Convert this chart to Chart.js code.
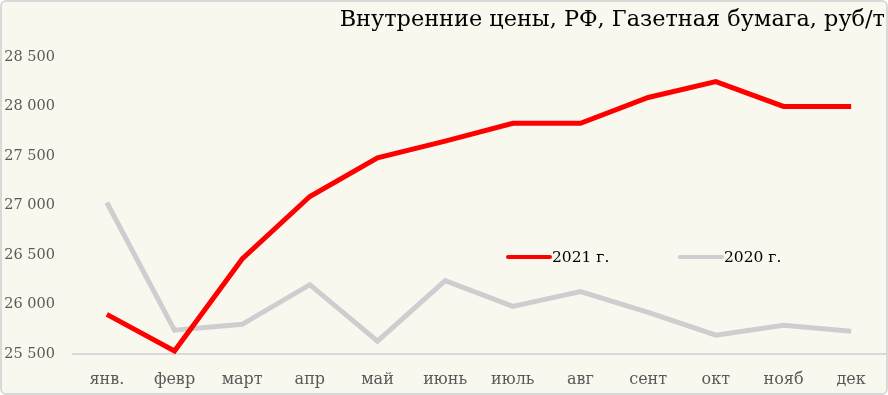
<!DOCTYPE html>
<html>
<head>
<meta charset="utf-8">
<script src="https://cdn.jsdelivr.net/npm/chart.js@4"></script>
<style>
  html, body { margin: 0; padding: 0; background: #ffffff; }
  .box {
    width: 888px; height: 395px; box-sizing: border-box;
    border: 2px solid #d9d9d9; border-radius: 6px;
    background: #f9f8ee; overflow: hidden;
  }
  canvas { display: block; }
</style>
</head>
<body>
<div class="box"><canvas id="myChart" width="884" height="391"></canvas></div>
<script>
    // data
    const months = ['янв.', 'февр', 'март', 'апр', 'май', 'июнь', 'июль', 'авг', 'сент', 'окт', 'нояб', 'дек'];
    const prices2021 = [25900, 25530, 26460, 27090, 27480, 27650, 27830, 27830, 28090, 28250, 28000, 28000];
    const prices2020 = [27030, 25740, 25800, 26200, 25630, 26240, 25980, 26130, 25920, 25690, 25790, 25730];
    const titleText = 'Внутренние цены, РФ, Газетная бумага, руб/т';

    const serif = "'DejaVu Serif', 'Liberation Serif', serif";

    // legend drawn inside the plot, like the original
    const innerLegend = {
      id: 'innerLegend',
      afterDraw(chart, args, opts) {
        const ctx = chart.ctx;
        const area = chart.chartArea;
        ctx.save();
        ctx.font = opts.font;
        ctx.textBaseline = 'middle';
        chart.data.datasets.forEach((ds, i) => {
          const x = area.left + opts.xs[i];
          const y = area.top + opts.y;
          ctx.strokeStyle = ds.borderColor;
          ctx.lineWidth = 4;
          ctx.lineCap = 'round';
          ctx.beginPath();
          ctx.moveTo(x, y);
          ctx.lineTo(x + 42, y);
          ctx.stroke();
          ctx.fillStyle = '#000000';
          ctx.fillText(ds.label, x + 44, y + 1);
        });
        ctx.restore();
      }
    };

    const data = {
      labels: months,
      datasets: [{
        label: '2021 г.',
        data: prices2021,
        borderColor: '#ff0000',
        borderWidth: 5,
        pointRadius: 0,
        tension: 0
      },
      {
        label: '2020 г.',
        data: prices2020,
        borderColor: '#d0cdd0',
        borderWidth: 5,
        pointRadius: 0,
        tension: 0
      }]
    };

    const config = {
      type: 'line',
      data,
      plugins: [innerLegend],
      options: {
        responsive: false,
        animation: false,
        layout: { padding: { left: 2, right: 1, top: 4, bottom: 0 } },
        plugins: {
          legend: { display: false },
          tooltip: { enabled: false },
          title: {
            display: true,
            text: titleText,
            align: 'end',
            color: '#000000',
            font: { family: serif, size: 22.4, weight: 'normal' },
            padding: { top: 1, bottom: 23 }
          },
          innerLegend: {
            font: "15.5px " + serif,
            xs: [435, 607],
            y: 200
          }
        },
        scales: {
          x: {
            offset: true,
            grid: { display: false, drawTicks: false },
            border: { display: true, color: '#d9d9d9', width: 2 },
            afterFit: scale => { scale.height = 39; },
            ticks: {
              color: '#595959',
              font: { family: serif, size: 16 },
              padding: 16,
              maxRotation: 0
            }
          },
          y: {
            min: 25500,
            max: 28500,
            grid: { display: false, drawTicks: false },
            border: { display: false },
            afterFit: scale => { scale.width = 69; },
            ticks: {
              stepSize: 500,
              color: '#595959',
              font: { family: serif, size: 14.5 },
              padding: 18,
              callback: v => String(v).replace(/(\d\d)(\d\d\d)$/, '$1 $2')
            }
          }
        }
      }
    };

    const ctx = document.getElementById('myChart');
    const myChart = new Chart(ctx, config);
</script>
</body>
</html>
